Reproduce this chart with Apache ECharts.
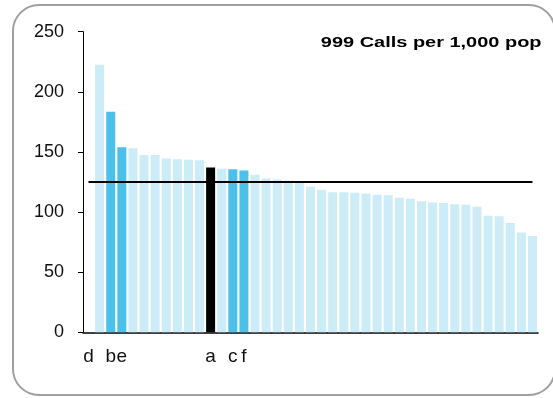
<!DOCTYPE html>
<html>
<head>
<meta charset="utf-8">
<script src="https://cdn.jsdelivr.net/npm/echarts@6/dist/echarts.min.js"></script>
<style>
html,body{margin:0;padding:0;background:#fff;}
#chart{width:553px;height:398px;}
</style>
</head>
<body>
<div id="chart"></div>
<script>
// Category labels (index 0 'd' has no value)
var categories = ['d','','b','e','','','','','','','','a','','c','f','','','','','','','','','','','','','','','','','','','','','','','','','',''];
// 999 calls per 1,000 population
var values = [null,222.5,183.5,154,153,147.5,147.5,144.5,144,143.5,143,137,136,135.5,134.5,131,128,127,126,125.5,121,118.5,116.5,116.5,116,115.5,114.5,114,112,111,109,108,107.5,106.5,106,104.5,97,96.5,91,83,80];
var highlightBlue = ['b','e','c','f'];
var highlightBlack = ['a'];
var averageValue = 125;
var yTicks = [0, 250, 50]; // min, max, interval
var titleText = '999 Calls per 1,000 pop';

var FONT = 'Liberation Sans, Arial, sans-serif';
var LIGHT = '#ccecf8';
var BLUE = '#4bc1ea';
var BLACK = '#000000';

var barData = values.map(function (v, i) {
  var c = categories[i];
  var col = LIGHT;
  if (highlightBlue.indexOf(c) >= 0) col = BLUE;
  if (highlightBlack.indexOf(c) >= 0) col = BLACK;
  return { value: v, itemStyle: { color: col } };
});

var chart = echarts.init(document.getElementById('chart'), null, { renderer: 'canvas' });
chart.setOption({
  animation: false,
  backgroundColor: '#fff',
  grid: { left: 83, right: 15, top: 31.7, bottom: 65.7, containLabel: false },
  xAxis: {
    type: 'category',
    data: categories,
    boundaryGap: true,
    axisLine: { show: true, lineStyle: { color: '#000', width: 1.5 } },
    axisTick: { show: false },
    axisLabel: { interval: 0, color: '#111', fontFamily: FONT, fontSize: 19, margin: 15 },
    splitLine: { show: false }
  },
  yAxis: {
    type: 'value',
    min: yTicks[0], max: yTicks[1], interval: yTicks[2],
    axisLine: { show: true, lineStyle: { color: '#000', width: 1 } },
    axisTick: { show: true, length: 5, lineStyle: { color: '#000' } },
    axisLabel: { color: '#111', fontFamily: FONT, fontSize: 18, margin: 19 },
    splitLine: { show: false }
  },
  series: [{
    type: 'bar',
    data: barData,
    barCategoryGap: '19%',
    silent: true,
    markLine: {
      silent: true,
      symbol: ['none', 'none'],
      label: { show: false },
      lineStyle: { color: '#000', width: 2, type: 'solid' },
      data: [[{ xAxis: 0, yAxis: averageValue }, { xAxis: categories.length - 1, yAxis: averageValue }]]
    }
  }],
  graphic: [
    {
      type: 'rect', silent: true, z: -1,
      shape: { x: 13, y: 5, width: 542, height: 390, r: 26 },
      style: { fill: 'none', stroke: '#a0a0a0', lineWidth: 2 }
    },
    {
      type: 'text', silent: true,
      x: 541.5, y: 35, scaleX: 1.33,
      style: { text: titleText, font: 'bold 15px ' + FONT, fill: '#000', textAlign: 'right', textVerticalAlign: 'top' }
    }
  ]
});
</script>
</body>
</html>
